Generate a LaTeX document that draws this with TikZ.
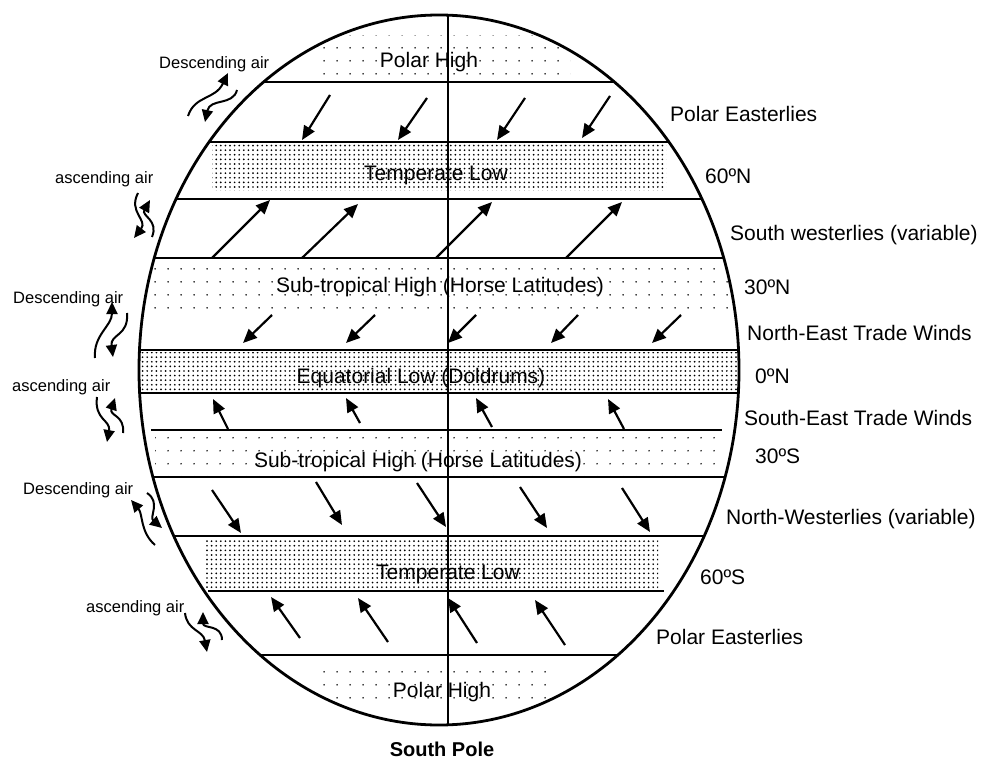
\documentclass[tikz,border=0pt]{standalone}
\usepackage{fontspec}
\setmainfont{Liberation Sans}
\usetikzlibrary{arrows.meta,patterns.meta,positioning}

\tikzset{
	wind/.style={line width=2.2pt, -{Triangle[length=14pt,width=12pt]}},
	wavy/.style={line width=2pt, -{Triangle[length=12pt,width=11pt]}},
	band/.style={line width=1.3pt},
	dense/.style={pattern={Dots[distance=4.6pt,radius=0.95pt]}},
	sparse/.style={pattern={Dots[distance=13pt,radius=0.9pt]}},
	zone/.style={font=\fontsize{21}{24}\selectfont, inner sep=0pt, text height=15pt, text depth=0pt},
	lbl/.style={zone, anchor=west},
	air/.style={anchor=west, font=\fontsize{16.5}{19}\selectfont, inner sep=0pt, text height=12pt, text depth=0pt}
}

\begin{document}
\begin{tikzpicture}[x=1pt, y=-1pt]
	\useasboundingbox (0,0) rectangle (988,762);
	\begin{scope}
		\clip (439,370) ellipse [x radius=300pt, y radius=355pt];
		\fill[sparse] (320,36) rectangle (570,78);
		\fill[dense] (212,145) rectangle (666,191);
		\fill[sparse] (140,263) rectangle (740,318);
		\fill[dense] (130,352) rectangle (750,392);
		\fill[sparse] (155,433) rectangle (722,475);
		\fill[dense] (205,540) rectangle (658,588);
		\fill[sparse] (313,667) rectangle (555,707);
		\foreach \y in {82,142,199,258,350,393,477,536,655}
			\draw[band] (100,\y) -- (800,\y);
		\draw[band] (448,0) -- (448,762);
	\end{scope}
	\draw[band] (151,430) -- (722,430);
	\draw[band] (208,591) -- (664,591);
	\draw[line width=2.8pt] (439,370) ellipse [x radius=300pt, y radius=355pt];

	% zones
	\node[zone]	(0) at (429,60)		{Polar High};
	\node[zone]	(1) at (436,173)	{Temperate Low};
	\node[zone]	(2) at (440,285)	{Sub-tropical High (Horse Latitudes)};
	\node[zone]	(3) at (421,376)	{Equatorial Low (Doldrums)};
	\node[zone]	(4) at (418,460)	{Sub-tropical High (Horse Latitudes)};
	\node[zone]	(5) at (448,572)	{Temperate Low};
	\node[zone]	(6) at (442,690)	{Polar High};
	\node[font=\bfseries\fontsize{20}{24}\selectfont] (7) [below of = 6, node distance=59pt] {South Pole};

	\node[lbl]	(8) at (670,114)	{Polar Easterlies};
	\node[lbl]	(9) at (705,176)	{60ºN};
	\node[lbl]	(10) at (730,233)	{South westerlies (variable)};
	\node[lbl]	(11) at (744,287)	{30ºN};
	\node[lbl]	(12) at (747,333)	{North-East Trade Winds};
	\node[lbl]	(13) at (755,376)	{0ºN};
	\node[lbl]	(14) at (744,418)	{South-East Trade Winds};
	\node[lbl]	(15) at (755,456)	{30ºS};
	\node[lbl]	(16) at (726,517)	{North-Westerlies (variable)};
	\node[lbl]	(17) at (700,577)	{60ºS};
	\node[lbl]	(18) at (656,637)	{Polar Easterlies};

	\node[air]	(19) at (159,63)	{Descending air};
	\node[air]	(20) at (55,178)	{ascending air};
	\node[air]	(21) at (13,297)	{Descending air};
	\node[air]	(22) at (12,385)	{ascending air};
	\node[air]	(23) at (23,488)	{Descending air};
	\node[air]	(24) at (86,606)	{ascending air};

	% winds
	\draw[wind] (330,95) -- (302,140);
	\draw[wind] (427,98) -- (398,140);
	\draw[wind] (525,98) -- (497,140);
	\draw[wind] (610,96) -- (582,138);
	\draw[wind] (212,258) -- (270,200);
	\draw[wind] (302,258) -- (358,204);
	\draw[wind] (436,258) -- (492,202);
	\draw[wind] (566,258) -- (622,202);
	\draw[wind] (272,315) -- (243,343);
	\draw[wind] (375,315) -- (346,343);
	\draw[wind] (476,315) -- (448,343);
	\draw[wind] (578,315) -- (551,343);
	\draw[wind] (681,315) -- (652,343);
	\draw[wind] (228,429) -- (213,399);
	\draw[wind] (360,423) -- (346,398);
	\draw[wind] (492,427) -- (476,398);
	\draw[wind] (624,429) -- (608,399);
	\draw[wind] (212,490) -- (241,533);
	\draw[wind] (316,482) -- (342,525);
	\draw[wind] (417,483) -- (446,527);
	\draw[wind] (520,487) -- (547,528);
	\draw[wind] (622,488) -- (650,532);
	\draw[wind] (300,638) -- (271,597);
	\draw[wind] (388,642) -- (358,598);
	\draw[wind] (477,643) -- (448,598);
	\draw[wind] (565,645) -- (535,600);

	% air
	\draw[wavy] (188,116) .. controls (195,95) and (215,100) .. (228,73);
	\draw[wavy] (237,90) .. controls (233,106) and (210,98) .. (205,122);
	\draw[wavy] (138,193) .. controls (128,212) and (148,220) .. (134,238);
	\draw[wavy] (152,237) .. controls (159,220) and (141,216) .. (150,200);
	\draw[wavy] (95,358) .. controls (93,335) and (112,326) .. (112,302);
	\draw[wavy] (127,313) .. controls (129,336) and (110,334) .. (113,357);
	\draw[wavy] (97,397) .. controls (94,420) and (111,420) .. (107,442);
	\draw[wavy] (123,433) .. controls (125,415) and (109,416) .. (115,398);
	\draw[wavy] (155,545) .. controls (140,532) and (143,514) .. (131,500);
	\draw[wavy] (147,493) .. controls (161,502) and (149,517) .. (162,528);
	\draw[wavy] (185,613) .. controls (187,631) and (203,630) .. (207,652);
	\draw[wavy] (222,640) .. controls (222,624) and (203,629) .. (203,612);
\end{tikzpicture}
\end{document}
